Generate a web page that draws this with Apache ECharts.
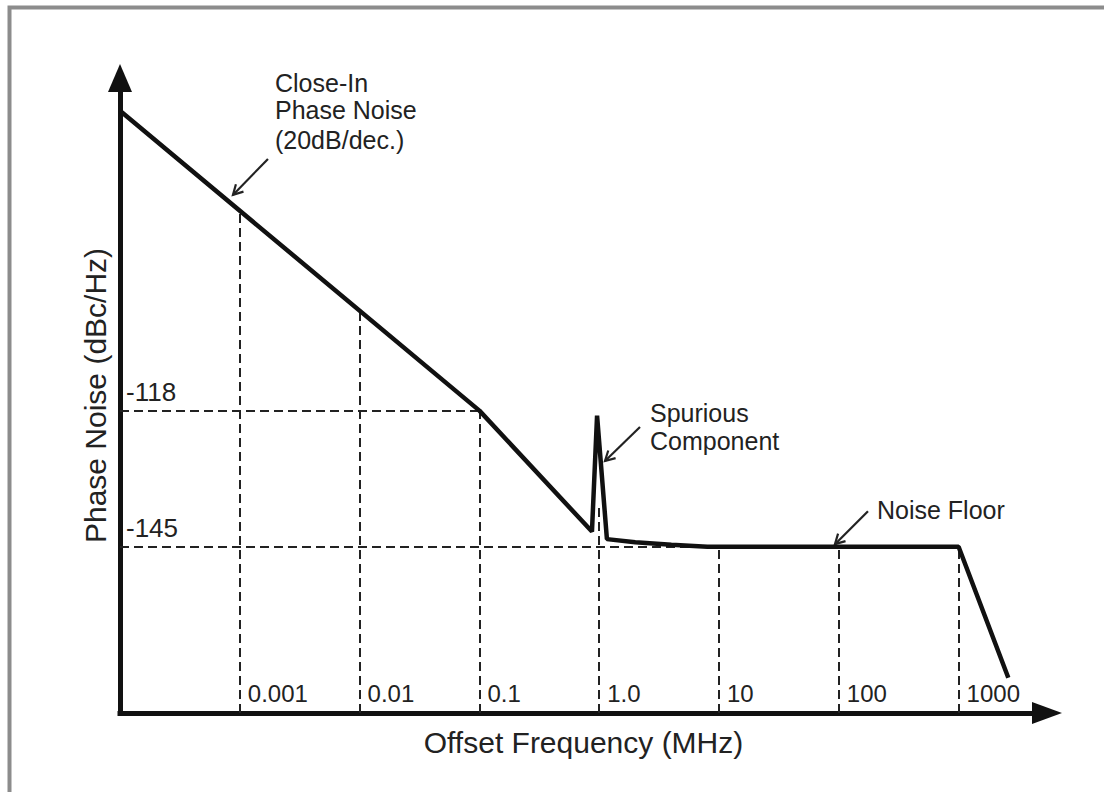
<!DOCTYPE html>
<html>
<head>
<meta charset="utf-8">
<title>Phase Noise vs Offset Frequency</title>
<script src="https://cdn.jsdelivr.net/npm/echarts@6/dist/echarts.min.js"></script>
<style>
  html, body { margin: 0; padding: 0; background: #fff; }
  #chart { width: 1104px; height: 792px; }
</style>
</head>
<body>
<div id="chart"></div>
<script>
// offset frequency (MHz) and phase noise (dBc/Hz)
const freqs = [0.0001, 0.1, 0.87, 0.96, 1.16, 2, 4, 8, 1000, 2600]
const noise = [-58.5, -118, -142, -119, -143.5, -144.1, -144.6, -145, -145, -171]

// decade ticks along the bottom and how high their guides reach
const tickFreqs = [0.001, 0.01, 0.1, 1, 10, 100, 1000]
const tickLabels = ['0.001', '0.01', '0.1', '1.0', '10', '100', '1000']
const tickGuideTop = [-78, -98, -118, -137, -145, -145, -145]

// marked levels and how far right their guides run
const levelValues = [-118, -145]
const levelLabels = ['-118', '-145']
const levelGuideEnd = [0.1, 8]

// callouts: where the arrow touches the curve
const noteText = [['Close-In', 'Phase Noise', '(20dB/dec.)'], ['Spurious', 'Component'], ['Noise Floor']]
const noteTip = [[0.000877, -75.2], [1.118, -128], [92.9, -144.5]]

const xMin = 0.0001
const xMax = 5470
const yMin = -178
const yMax = -52

const font = "'Liberation Sans', Arial, sans-serif"
const ink = '#111'
const textColor = '#222'

const chart = echarts.init(document.getElementById('chart'), null, { renderer: 'svg' })

const guides = []
tickFreqs.forEach((f, i) => {
  guides.push([{ coord: [f, yMin] }, { coord: [f, tickGuideTop[i]] }])
})
levelValues.forEach((v, i) => {
  guides.push([
    { coord: [xMin, v], label: { show: true, formatter: levelLabels[i] } },
    { coord: [levelGuideEnd[i], v] }
  ])
})

chart.setOption({
  animation: false,
  backgroundColor: '#fff',
  grid: { left: 120, right: 57, top: 78, bottom: 79 },
  xAxis: {
    type: 'log',
    logBase: 10,
    min: xMin,
    max: xMax,
    name: 'Offset Frequency (MHz)',
    nameLocation: 'middle',
    nameGap: 14,
    nameTextStyle: { fontSize: 30, fontFamily: font, color: textColor, verticalAlign: 'top' },
    axisLine: {
      onZero: false,
      symbol: ['none', 'triangle'],
      symbolSize: [22, 30],
      lineStyle: { color: ink, width: 5, cap: 'square' }
    },
    axisTick: { show: false },
    splitLine: { show: false },
    minorSplitLine: { show: false },
    axisLabel: {
      inside: true,
      margin: 8,
      align: 'left',
      padding: [0, 0, 0, 8],
      fontSize: 24,
      fontFamily: font,
      color: textColor,
      showMinLabel: false,
      showMaxLabel: false,
      formatter: v => {
        const i = tickFreqs.findIndex(t => Math.abs(Math.log10(t) - Math.log10(v)) < 1e-6)
        return i < 0 ? '' : tickLabels[i]
      }
    }
  },
  yAxis: {
    type: 'value',
    min: yMin,
    max: yMax,
    name: 'Phase Noise (dBc/Hz)',
    nameLocation: 'middle',
    nameGap: 10,
    nameTextStyle: { fontSize: 30, fontFamily: font, color: textColor },
    axisLine: {
      show: true,
      symbol: ['none', 'triangle'],
      symbolSize: [24, 28],
      lineStyle: { color: ink, width: 5, cap: 'square' }
    },
    axisTick: { show: false },
    axisLabel: { show: false },
    splitLine: { show: false }
  },
  series: [
    {
      name: 'guides',
      type: 'line',
      data: [],
      z: 1,
      markLine: {
        silent: true,
        symbol: 'none',
        z: 1,
        animation: false,
        lineStyle: { color: '#222', width: 2, type: [9, 5] },
        label: {
          show: false,
          position: 'insideStartTop',
          distance: [6, 6],
          fontSize: 26,
          fontFamily: font,
          color: textColor
        },
        emphasis: { disabled: true },
        data: guides
      }
    },
    {
      name: 'Phase Noise',
      type: 'line',
      z: 5,
      symbol: 'none',
      lineStyle: { color: ink, width: 4.5, join: 'bevel' },
      data: freqs.map((f, i) => [f, noise[i]])
    }
  ]
})

// callout arrows and text, placed from the tip on the curve
const noteTail = [[35, -36], [35, -34], [33, -33]]
const noteTextPos = [[42, [-112, -84.5, -55]], [45, [-48, -20.5]], [42, [-34]]]
const graphics = [{
  type: 'rect',
  shape: { x: 9.5, y: 7.5, width: 2000, height: 2000 },
  style: { fill: 'none', stroke: '#8c8c8c', lineWidth: 4 },
  silent: true
}]
noteTip.forEach((tip, n) => {
  const p = chart.convertToPixel({ gridIndex: 0 }, tip)
  const t = [p[0] + noteTail[n][0], p[1] + noteTail[n][1]]
  const ang = Math.atan2(t[1] - p[1], t[0] - p[0])
  const len = 11
  const a1 = ang + 0.5
  const a2 = ang - 0.5
  graphics.push({
    type: 'line',
    shape: { x1: t[0], y1: t[1], x2: p[0], y2: p[1] },
    style: { stroke: '#222', lineWidth: 2.2 },
    silent: true
  })
  graphics.push({
    type: 'polyline',
    shape: { points: [
      [p[0] + len * Math.cos(a1), p[1] + len * Math.sin(a1)],
      p,
      [p[0] + len * Math.cos(a2), p[1] + len * Math.sin(a2)]
    ] },
    style: { stroke: '#222', lineWidth: 2.2, fill: 'none' },
    silent: true
  })
  noteText[n].forEach((line, k) => {
    graphics.push({
      type: 'text',
      x: p[0] + noteTextPos[n][0],
      y: p[1] + noteTextPos[n][1][k],
      style: {
        text: line,
        fontSize: 25,
        fontFamily: font,
        fill: textColor,
        align: 'left',
        verticalAlign: 'middle'
      },
      silent: true
    })
  })
})
chart.setOption({ graphic: graphics })
</script>
</body>
</html>
